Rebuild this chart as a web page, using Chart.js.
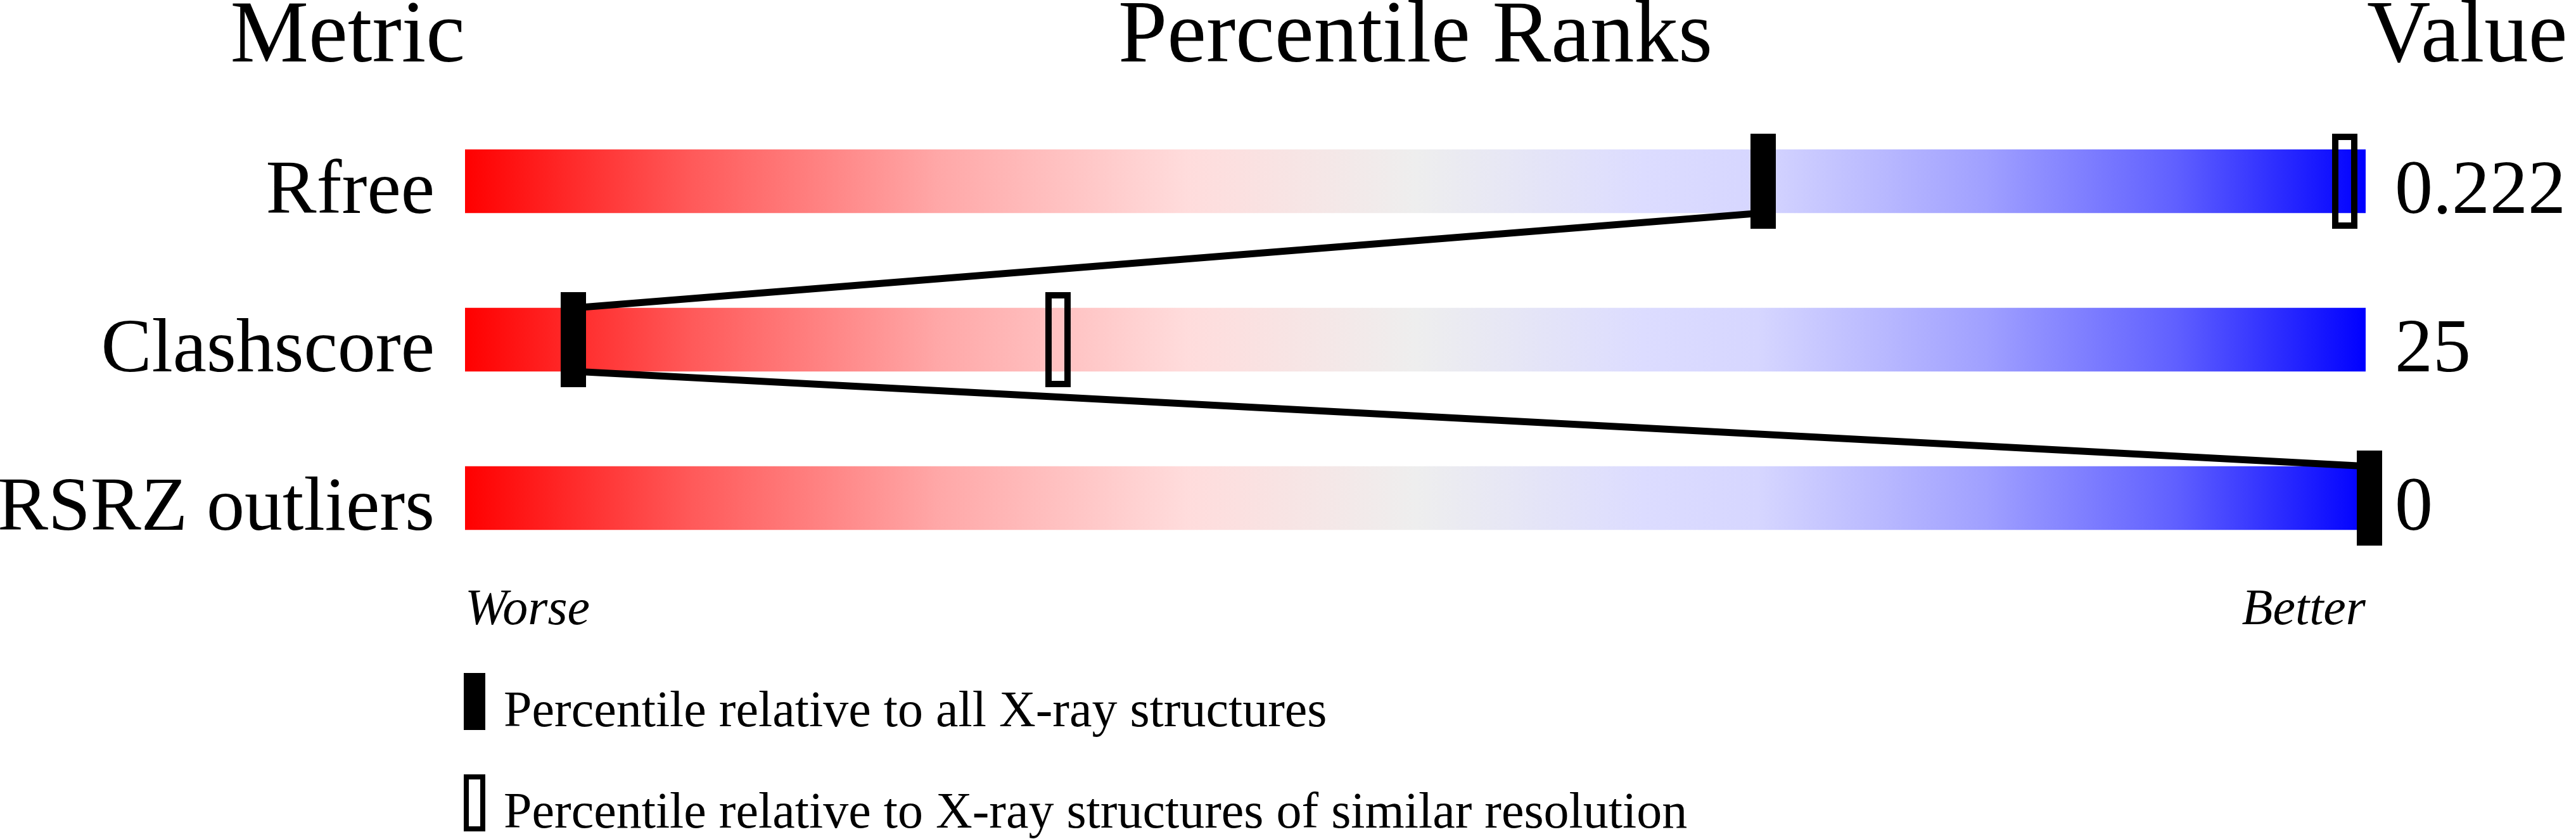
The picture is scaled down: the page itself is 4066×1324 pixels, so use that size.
<!DOCTYPE html>
<html>
<head>
<meta charset="utf-8">
<script src="https://cdn.jsdelivr.net/npm/chart.js@4.4.1/dist/chart.umd.min.js"></script>
<style>
  html, body { margin: 0; padding: 0; background: #fff; }
  canvas { display: block; }
</style>
</head>
<body>
<canvas id="slider" width="4066" height="1324"></canvas>
<script>
// values
const metrics = ["Rfree", "Clashscore", "RSRZ outliers"];
const metricValues = ["0.222", "25", "0"];
const pctAll = [68.3, 5.7, 100.2];      // percentile vs all X-ray structures (filled marker)
const pctSimilar = [98.9, 31.2, 100.2]; // percentile vs similar resolution (hollow marker)
const headers = ["Metric", "Percentile Ranks", "Value"];
const scaleEnds = ["Worse", "Better"];
const legendLabels = [
  "Percentile relative to all X-ray structures",
  "Percentile relative to X-ray structures of similar resolution",
];

const SERIF = "'Liberation Serif', 'Times New Roman', serif";
const BAR_H = 100;

// marker glyphs used as point styles
function makeMarker(w, h, hollow, border) {
  const c = document.createElement("canvas");
  c.width = w;
  c.height = h;
  const g = c.getContext("2d");
  g.fillStyle = "#000";
  if (hollow) {
    g.fillRect(0, 0, w, border);
    g.fillRect(0, h - border, w, border);
    g.fillRect(0, 0, border, h);
    g.fillRect(w - border, 0, border, h);
  } else {
    g.fillRect(0, 0, w, h);
  }
  return c;
}
const solidMarker = makeMarker(40, 150, false, 0);
const hollowMarker = makeMarker(40, 150, true, 10);
const solidLegend = makeMarker(34, 90, false, 0);
const hollowLegend = makeMarker(34, 90, true, 8);

function barGradient(context) {
  const chart = context.chart;
  if (!chart.chartArea) return "#eee";
  const x = chart.scales.x;
  const g = chart.ctx.createLinearGradient(x.getPixelForValue(0), 0, x.getPixelForValue(100), 0);
  g.addColorStop(0, "#ff0000");
  g.addColorStop(0.12, "#ff5a5a");
  g.addColorStop(0.25, "#ffa8a8");
  g.addColorStop(0.38, "#ffdcdc");
  g.addColorStop(0.5, "#eeeeee");
  g.addColorStop(0.62, "#dcdcff");
  g.addColorStop(0.68, "#d6d6ff");
  g.addColorStop(0.8, "#a0a0ff");
  g.addColorStop(0.9, "#6060ff");
  g.addColorStop(1, "#0000ff");
  return g;
}

// line links between filled markers of neighbouring rows
const links = [];
for (let i = 0; i < metrics.length - 1; i++) {
  const edge = 0.2; // half bar height in row units (100px of 250px row pitch)
  links.push({
    type: "line",
    data: [
      { x: pctAll[i], y: i + edge },
      { x: pctAll[i + 1], y: i + 1 - edge },
    ],
    borderColor: "#000",
    borderWidth: 11,
    pointRadius: 0,
    tension: 0,
    fill: false,
    clip: false,
    order: 3,
  });
}

const textPlugin = {
  id: "sliderText",
  afterDraw(chart) {
    const ctx = chart.ctx;
    const x = chart.scales.x;
    const y = chart.scales.y;
    const left = x.getPixelForValue(0);
    const right = x.getPixelForValue(100);
    ctx.save();
    ctx.fillStyle = "#000";
    ctx.textBaseline = "alphabetic";

    // column headers
    ctx.font = "139px " + SERIF;
    ctx.textAlign = "right";
    ctx.fillText(headers[0], left, 97);
    ctx.textAlign = "center";
    ctx.fillText(headers[1], (left + right) / 2, 97);
    ctx.textAlign = "left";
    ctx.fillText(headers[2], right + 2, 97);

    // row names and values, baseline on bar bottom
    ctx.font = "120px " + SERIF;
    metrics.forEach((m, i) => {
      const base = y.getPixelForValue(i) + BAR_H / 2;
      ctx.textAlign = "right";
      ctx.fillText(m, left - 48, base);
      ctx.textAlign = "left";
      ctx.fillText(metricValues[i], right + 46, base);
    });

    ctx.font = "italic 80px " + SERIF;
    ctx.textAlign = "left";
    ctx.fillText(scaleEnds[0], left, 985);
    ctx.textAlign = "right";
    ctx.fillText(scaleEnds[1], right, 985);

    // legend
    const marks = [solidLegend, hollowLegend];
    const tops = [1062, 1222];
    ctx.font = "80px " + SERIF;
    ctx.textAlign = "left";
    legendLabels.forEach((t, i) => {
      ctx.drawImage(marks[i], left - 2, tops[i]);
      ctx.fillText(t, left + 61, tops[i] + 84);
    });
    ctx.restore();
  },
};

new Chart(document.getElementById("slider"), {
  type: "bar",
  data: {
    datasets: [
      {
        type: "scatter",
        data: pctAll.map((p, i) => ({ x: p, y: i })),
        pointStyle: solidMarker,
        pointRadius: 20,
        clip: false,
        order: 1,
      },
      {
        type: "scatter",
        data: pctSimilar.map((p, i) => ({ x: p, y: i })),
        pointStyle: hollowMarker,
        pointRadius: 20,
        clip: false,
        order: 2,
      },
      ...links,
      {
        type: "bar",
        data: metrics.map((m, i) => ({ x: [0, 100], y: i })),
        backgroundColor: barGradient,
        borderWidth: 0,
        barThickness: BAR_H,
        order: 4,
      },
    ],
  },
  options: {
    indexAxis: "y",
    responsive: false,
    animation: false,
    events: [],
    layout: { padding: { left: 734, right: 332, top: 161, bottom: 413 } },
    scales: {
      x: { type: "linear", min: 0, max: 100, display: false },
      // bar charts default the index axis to offset:true, which squeezes the rows
      y: { type: "linear", min: -0.5, max: 2.5, reverse: true, offset: false, display: false },
    },
    plugins: {
      legend: { display: false },
      tooltip: { enabled: false },
    },
  },
  plugins: [textPlugin],
});
</script>
</body>
</html>
